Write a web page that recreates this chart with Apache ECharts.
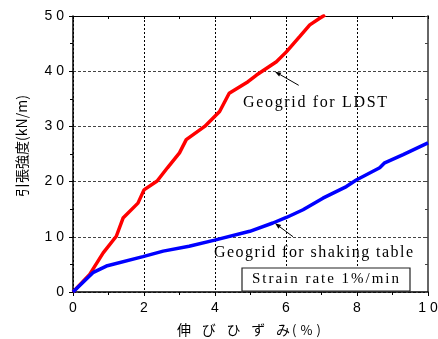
<!DOCTYPE html>
<html><head><meta charset="utf-8">
<script src="https://cdn.jsdelivr.net/npm/echarts@6/dist/echarts.min.js"></script>
<style>html,body{margin:0;padding:0;background:#fff}#c{width:438px;height:339px}</style>
</head><body><div id="c"></div>
<script>
// Geogrid for LDST (red)
const redStrain = [0, 0.47, 0.85, 1.22, 1.41, 1.83, 2.0, 2.37, 2.66, 3.0, 3.19, 3.71, 4.13, 4.4, 4.93, 5.17, 5.73, 6.01, 6.39, 6.67, 6.95, 7.1];
const redForce  = [0, 3.2, 7.1, 10.1, 13.4, 16.1, 18.5, 20.1, 22.5, 25.2, 27.6, 30.0, 32.7, 36.0, 38.1, 39.3, 41.7, 43.5, 46.3, 48.4, 49.6, 50.2];
// Geogrid for shaking table (blue)
const blueStrain = [0, 0.56, 0.94, 1.97, 2.54, 3.27, 3.99, 4.98, 5.63, 6.01, 6.48, 7.04, 7.70, 7.98, 8.64, 8.78, 9.30, 10];
const blueForce  = [0, 3.5, 4.7, 6.4, 7.4, 8.3, 9.4, 11.0, 12.5, 13.5, 14.9, 17.0, 19.1, 20.3, 22.5, 23.4, 24.9, 27.0];
const xName1 = '伸びひずみ';
const xName2 = '(%)';
const yName = '引張強度(kN/m)';
const label1 = 'Geogrid for LDST';
const label2 = 'Geogrid for shaking table';
const boxLabel = 'Strain rate 1%/min';

const chart = echarts.init(document.getElementById('c'), null, {renderer: 'canvas'});
const mctx = document.createElement('canvas').getContext('2d');
function spaced(str, x0, x1, cy, size, family, color) {
  const font = size + 'px ' + family;
  mctx.font = font;
  const chars = [...str];
  const ws = chars.map(c => mctx.measureText(c).width);
  const sum = ws.reduce((a, b) => a + b, 0);
  const gap = (x1 - x0 - sum) / (chars.length - 1);
  let x = x0; const els = [];
  chars.forEach((c, i) => {
    if (c !== ' ') els.push({type: 'text', x: x, y: cy, z: 100, style: {text: c, font: font, fill: color, align: 'left', verticalAlign: 'middle'}});
    x += ws[i] + gap;
  });
  return els;
}
function arrow(tx, ty, hx, hy) {
  const dx = hx - tx, dy = hy - ty, L = Math.hypot(dx, dy);
  const ux = dx / L, uy = dy / L, hl = 6, hw = 2.2;
  const bx = hx - ux * hl, by = hy - uy * hl;
  return [
    {type: 'line', z: 100, shape: {x1: tx, y1: ty, x2: bx, y2: by}, style: {stroke: '#000', lineWidth: 1}},
    {type: 'polygon', z: 100, shape: {points: [[hx, hy], [bx - uy * hw, by + ux * hw], [bx + uy * hw, by - ux * hw]]}, style: {fill: '#000'}}
  ];
}
const serif = '"Liberation Serif", "Times New Roman", serif';
const cjk = '"Noto Sans CJK JP", sans-serif';
const graphics = [].concat(
  spaced(label1, 243, 387, 103, 16, serif, '#000'),
  arrow(298.7, 85.3, 275, 71.7),
  spaced(label2, 214, 413, 253, 16, serif, '#000'),
  arrow(293, 236.7, 275, 223.3),
  [{type: 'rect', z: 99, shape: {x: 242, y: 268, width: 168, height: 23}, style: {fill: '#fff', stroke: '#222', lineWidth: 1.2}}],
  spaced(boxLabel, 252, 399, 279.5, 15, serif, '#000'),
  spaced(xName1, 177, 290, 330, 14, cjk, '#000'),
  spaced(xName2, 292, 321, 330, 13, cjk, '#000'),
  [{type: 'text', x: 22, y: 146, rotation: Math.PI / 2, z: 100, style: {text: yName, font: '14px ' + cjk, fill: '#000', align: 'center', verticalAlign: 'middle'}}]
);
const labelFmt = v => String(v).split('').join(' ');
const tickFont = {fontSize: 14, fontFamily: '"Liberation Sans", Arial, sans-serif', color: '#000'};
chart.setOption({
  animation: false,
  backgroundColor: '#fff',
  grid: {left: 73, top: 16, right: 10, bottom: 47, containLabel: false, outerBoundsMode: 'none'},
  xAxis: [
    {type: 'value', min: 0, max: 10, interval: 2, position: 'bottom',
     axisLine: {show: true, onZero: false, lineStyle: {color: '#000', width: 1.5}},
     axisTick: {show: true, inside: false, length: 4, lineStyle: {color: '#000'}},
     minorTick: {show: true, splitNumber: 2, length: 3, lineStyle: {color: '#000'}},
     axisLabel: Object.assign({margin: 9, formatter: labelFmt, showMaxLabel: true, hideOverlap: false}, tickFont),
     splitLine: {show: true, lineStyle: {type: [2, 2], color: '#000', width: 1}}},
    {type: 'value', min: 0, max: 10, interval: 2, position: 'top',
     axisLine: {show: true, onZero: false, lineStyle: {color: '#000', width: 1}},
     axisTick: {show: true, inside: true, length: 3, lineStyle: {color: '#000'}},
     minorTick: {show: true, splitNumber: 2, length: 3, lineStyle: {color: '#000'}},
     axisLabel: {show: false}, splitLine: {show: false}}
  ],
  yAxis: [
    {type: 'value', min: 0, max: 50, interval: 10, position: 'left',
     axisLine: {show: true, onZero: false, lineStyle: {color: '#000', width: 1.5}},
     axisTick: {show: true, inside: false, length: 4, lineStyle: {color: '#000'}},
     minorTick: {show: true, splitNumber: 2, length: 3, lineStyle: {color: '#000'}},
     axisLabel: Object.assign({margin: 9, formatter: labelFmt}, tickFont),
     splitLine: {show: true, lineStyle: {type: [3, 2], color: '#444', width: 1}}},
    {type: 'value', min: 0, max: 50, interval: 10, position: 'right',
     axisLine: {show: true, onZero: false, lineStyle: {color: '#666', width: 2}},
     axisTick: {show: true, inside: true, length: 3, lineStyle: {color: '#444'}},
     minorTick: {show: true, splitNumber: 2, length: 3, lineStyle: {color: '#444'}},
     axisLabel: {show: false}, splitLine: {show: false}}
  ],
  series: [
    {type: 'line', name: label1, data: redStrain.map((x, i) => [x, redForce[i]]), showSymbol: false, symbol: 'none', clip: true,
     lineStyle: {color: '#ff0000', width: 3.5}, z: 5},
    {type: 'line', name: label2, data: blueStrain.map((x, i) => [x, blueForce[i]]), showSymbol: false, symbol: 'none', clip: true,
     lineStyle: {color: '#0000ff', width: 3.5}, z: 5}
  ],
  graphic: graphics
});
</script></body></html>
